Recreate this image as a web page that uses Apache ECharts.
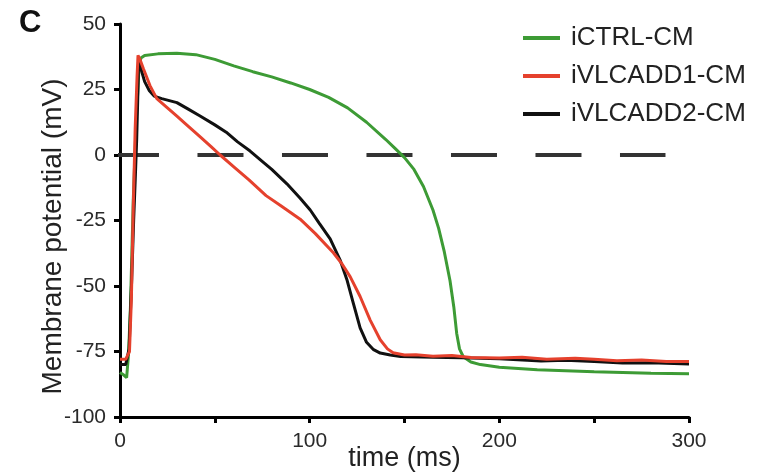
<!DOCTYPE html>
<html>
<head>
<meta charset="utf-8">
<script src="https://cdn.jsdelivr.net/npm/echarts@6/dist/echarts.min.js"></script>
<style>html,body{margin:0;padding:0;background:#fff}#c{width:779px;height:476px}</style>
</head>
<body>
<div id="c"></div>
<script>
// Data (time in ms, membrane potential in mV)
const seriesNames = ['iCTRL-CM', 'iVLCADD1-CM', 'iVLCADD2-CM'];
const xTicks = [0, 100, 200, 300];
const yTicks = [-100, -75, -50, -25, 0, 25, 50];

const ctrl = [
  [0,-83],[2,-84],[3.5,-85],[4.5,-76],[5.5,-58],[7,-17],[8.5,12],[10,33],[11,37],[13,38],[20,38.6],[30,38.8],[40,38.3],
  [50,36.5],[60,34],[70,31.8],[80,29.8],[90,27.5],[100,25],[110,22],[120,18],[130,12.5],[140,6],[145,2.5],
  [150,-1],[155,-5.5],[160,-12],[165,-21],[168,-28],[171,-37],[174,-48],[176,-58],[177.5,-68],[179,-74],
  [181,-77],[185,-79],[190,-80],[200,-81],[220,-82],[250,-82.7],[280,-83.3],[300,-83.5]
];

const vlcadd1 = [
  [0,-78],[3,-78],[4,-78.5],[5,-75],[6,-55],[7,-20],[8,10],[9,30],[9.5,38],[10.5,36.5],[12.3,33],[15.8,26.5],[19.4,21.5],
  [25,18],[30,14.8],[35,11.6],[42,7.1],[48,3.2],[52.8,0],[60,-4.5],[68,-9.5],[77,-15.5],[85,-19.5],[95,-24.5],
  [103,-30],[112.5,-37.3],[117,-41.5],[121.4,-46.5],[126.6,-54],[131.9,-63],[137.2,-70.5],[141,-74],[144,-75.5],
  [150,-76.3],[156,-76.2],[165,-76.8],[175,-76.5],[185,-77.3],[200,-77.5],[212,-77.2],[225,-78],[240,-77.6],
  [250,-78],[262,-78.5],[275,-78.2],[288,-78.8],[300,-78.8]
];

const vlcadd2 = [
  [0,-80],[3,-80],[4,-80.5],[4.8,-74],[5.5,-60],[6.2,-47],[7.2,-25],[8,-10],[8.8,6],[9.3,20],[9.8,35.5],[11,33],
  [13,28],[15.5,24.5],[18,22.5],[22,21.5],[30,20],[36,17.5],[42,15],[50,11.5],[56,8.7],[62,5],[68.6,1.5],
  [75.6,-2.8],[80,-5.5],[88,-11],[95,-16.5],[100.3,-21],[105,-26],[110.8,-32],[116,-40],[119.6,-47.5],
  [123,-56.5],[126.6,-66],[130,-71.5],[133.7,-74.3],[137.2,-75.6],[142.5,-76.3],[148,-76.9],[165,-77.2],
  [180,-77.4],[200,-77.8],[222,-78.6],[235,-78.3],[250,-78.8],[265,-79.4],[280,-79.3],[300,-79.8]
];

const zeroLine = [[-3.7,0],[287.6,0]];

const colors = ['#3d9b35', '#e5412d', '#111111'];
const FONT = "'Liberation Sans', Arial, sans-serif";

const chart = echarts.init(document.getElementById('c'), null, {renderer: 'canvas'});
chart.setOption({
  animation: false,
  backgroundColor: '#ffffff',
  title: {
    text: 'C', left: 14, top: 3,
    textStyle: {fontFamily: FONT, fontSize: 31, fontWeight: 'bold', color: '#111'}
  },
  legend: {
    orient: 'vertical', left: 518, top: 20,
    data: seriesNames,
    icon: 'rect', itemWidth: 37, itemHeight: 4, itemGap: 12,
    textStyle: {fontFamily: FONT, fontSize: 26, color: '#222', padding: [0,0,0,6], lineHeight: 26}
  },
  grid: {left: 120, right: 90, top: 24, bottom: 59, containLabel: false, outerBoundsMode: 'none'},
  xAxis: {
    type: 'value', min: 0, max: 300, interval: 50,
    name: 'time (ms)', nameLocation: 'middle', nameGap: 28, nameMoveOverlap: false,
    nameTextStyle: {fontFamily: FONT, fontSize: 27, color: '#222'},
    axisLine: {onZero: false, lineStyle: {color: '#000', width: 3}},
    axisTick: {length: 6, lineStyle: {color: '#000', width: 3}},
    axisLabel: {
      fontFamily: FONT, fontSize: 21, color: '#2a2a2a', margin: 14,
      formatter: v => xTicks.includes(v) ? String(v) : ''
    },
    splitLine: {show: false}
  },
  yAxis: {
    type: 'value', min: -100, max: 50, interval: 25,
    name: 'Membrane potential (mV)', nameLocation: 'middle', nameGap: 53, nameMoveOverlap: false,
    nameTextStyle: {fontFamily: FONT, fontSize: 28, color: '#222', padding: [0, 32, 0, 0]},
    axisLine: {onZero: false, lineStyle: {color: '#000', width: 3}},
    axisTick: {length: 6, lineStyle: {color: '#000', width: 3}},
    axisLabel: {
      fontFamily: FONT, fontSize: 21, color: '#2a2a2a', margin: 14,
      formatter: v => yTicks.includes(v) ? String(v) : ''
    },
    splitLine: {show: false}
  },
  series: [
    {
      name: 'zero', type: 'line', data: zeroLine, clip: false, symbol: 'none', silent: true,
      lineStyle: {color: '#333', width: 4, type: [46, 38.5]}, z: 1
    },
    {
      name: seriesNames[0], type: 'line', data: ctrl, symbol: 'none', smooth: false,
      lineStyle: {color: colors[0], width: 3}, itemStyle: {color: colors[0]}, z: 2
    },
    {
      name: seriesNames[2], type: 'line', data: vlcadd2, symbol: 'none',
      lineStyle: {color: colors[2], width: 3}, itemStyle: {color: colors[2]}, z: 3
    },
    {
      name: seriesNames[1], type: 'line', data: vlcadd1, symbol: 'none',
      lineStyle: {color: colors[1], width: 3}, itemStyle: {color: colors[1]}, z: 4
    }
  ]
});
</script>
</body>
</html>
